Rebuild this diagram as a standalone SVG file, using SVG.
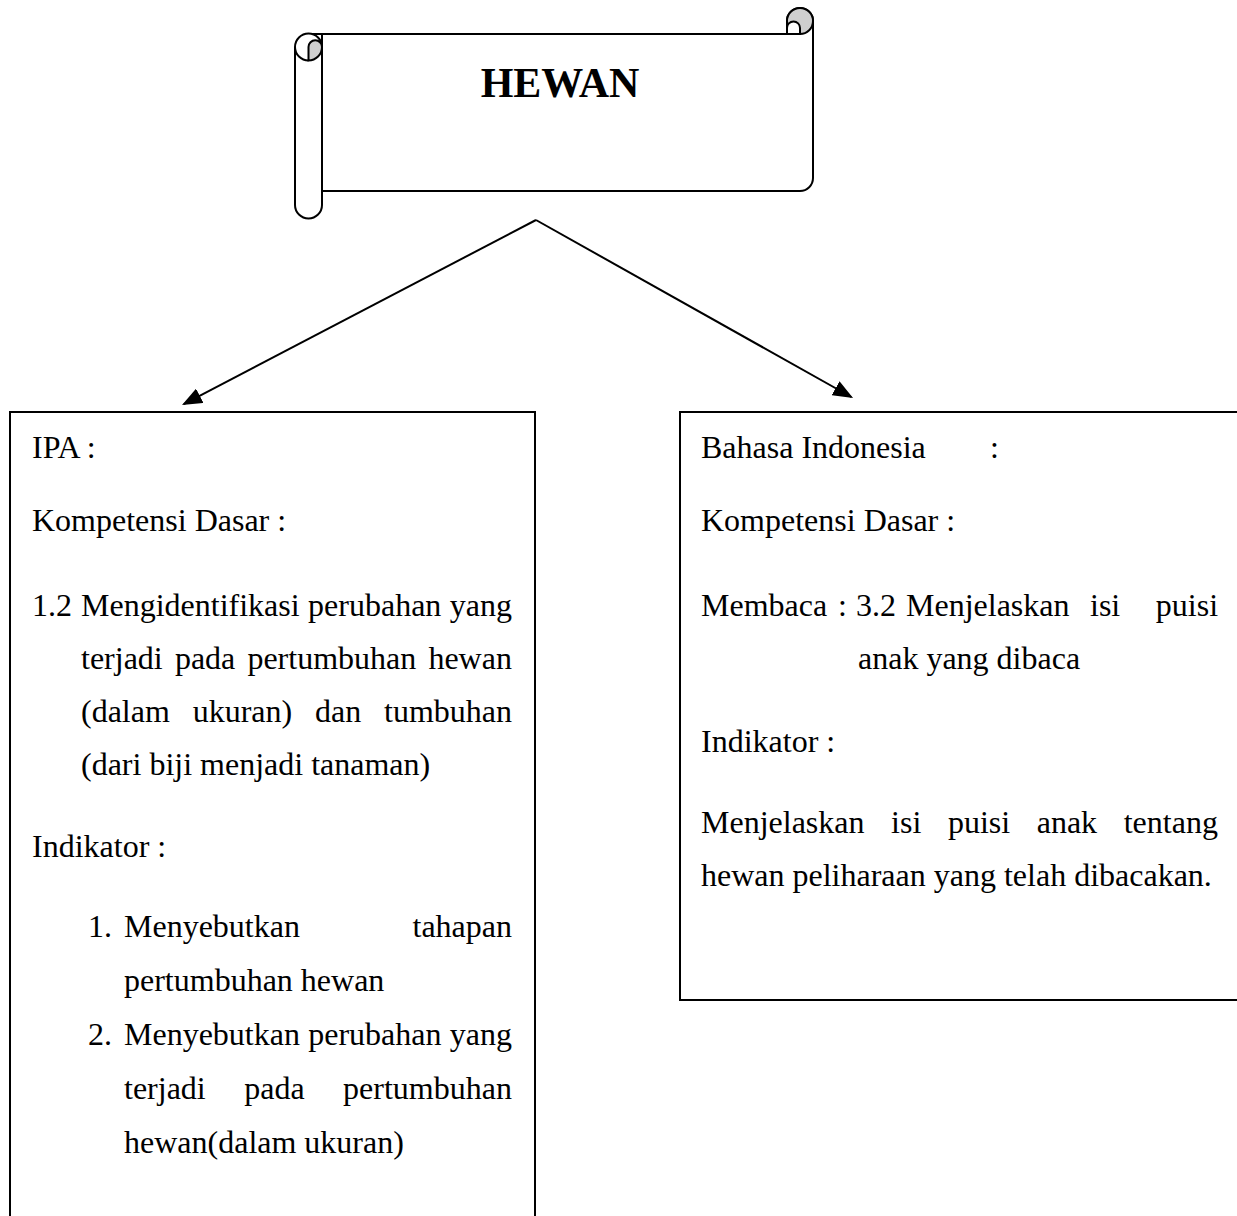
<svg xmlns="http://www.w3.org/2000/svg" width="1237" height="1216" viewBox="0 0 1237 1216">
<style>
.t{font-family:"Liberation Serif","Times New Roman",serif;font-size:32px;fill:#000}
.title{font-family:"Liberation Serif","Times New Roman",serif;font-size:42px;font-weight:bold;fill:#000}
.ln{stroke:#000;stroke-width:2;fill:none}
.box{stroke:#000;stroke-width:2;fill:#fff}
.grey{fill:#cfcfcf;stroke:#000;stroke-width:2}
</style>
<defs>
<marker id="ah" markerUnits="userSpaceOnUse" markerWidth="20" markerHeight="16" refX="18" refY="8" orient="auto">
<path d="M0,0 L20,8 L0,16 Z" fill="#000"/>
</marker>
</defs>
<rect width="1237" height="1216" fill="#fff"/>
<g id="title-scroll">
<path class="box" d="M308,34 H787 V21 A13,13 0 0 1 813,21 V178 A13,13 0 0 1 800,191 H322 V34 Z"/>
<circle class="grey" cx="800" cy="21" r="13"/>
<path class="box" d="M787,21 V34 H800 V28 A6.5,6.5 0 0 0 787,28"/>
<path class="box" d="M295,47 V205 A13.5,13.5 0 0 0 322,205 V47 A13.5,13.5 0 0 0 295,47 Z"/>
<path class="ln" d="M295,47 A13.5,13.5 0 0 0 308.5,60.5"/>
<path class="grey" d="M308.5,60.5 V47 A6.75,6.75 0 0 1 322,47 A13.5,13.5 0 0 1 308.5,60.5 Z"/>
<text class="title" x="560" y="97" text-anchor="middle">HEWAN</text>
</g>
<g id="connectors">
<line class="ln" x1="536" y1="220" x2="183.8" y2="404.1" marker-end="url(#ah)"/>
<line class="ln" x1="536" y1="220" x2="851.3" y2="397" marker-end="url(#ah)"/>
</g>
<g id="ipa-box">
<rect class="box" x="10" y="412" width="525" height="830"/>
<text class="t" x="32" y="458">IPA :</text>
<text class="t" x="32" y="531">Kompetensi Dasar :</text>
<text class="t" y="616"><tspan x="32">1.2</tspan><tspan x="81">Mengidentifikasi</tspan><tspan x="308.1">perubahan</tspan><tspan x="449.8">yang</tspan></text>
<text class="t" y="669"><tspan x="81">terjadi</tspan><tspan x="174.9">pada</tspan><tspan x="247.4">pertumbuhan</tspan><tspan x="428.4">hewan</tspan></text>
<text class="t" y="722"><tspan x="81">(dalam</tspan><tspan x="192.7">ukuran)</tspan><tspan x="315">dan</tspan><tspan x="384">tumbuhan</tspan></text>
<text class="t" x="81" y="775">(dari biji menjadi tanaman)</text>
<text class="t" x="32" y="857">Indikator :</text>
<text class="t" y="937"><tspan x="88">1.</tspan><tspan x="124">Menyebutkan</tspan><tspan x="412.5">tahapan</tspan></text>
<text class="t" x="124" y="991">pertumbuhan hewan</text>
<text class="t" y="1045"><tspan x="88">2.</tspan><tspan x="124">Menyebutkan</tspan><tspan x="308.2">perubahan</tspan><tspan x="449.8">yang</tspan></text>
<text class="t" y="1099"><tspan x="124">terjadi</tspan><tspan x="244.2">pada</tspan><tspan x="343.1">pertumbuhan</tspan></text>
<text class="t" x="124" y="1153">hewan(dalam ukuran)</text>
</g>
<g id="bahasa-box">
<rect class="box" x="680" y="412" width="580" height="588"/>
<text class="t" y="458"><tspan x="701">Bahasa Indonesia</tspan><tspan x="990">:</tspan></text>
<text class="t" x="701" y="531">Kompetensi Dasar :</text>
<text class="t" y="616"><tspan x="701">Membaca</tspan><tspan x="838">:</tspan><tspan x="856">3.2</tspan><tspan x="906">Menjelaskan</tspan><tspan x="1090">isi</tspan><tspan x="1155.8">puisi</tspan></text>
<text class="t" x="858" y="669">anak yang dibaca</text>
<text class="t" x="701" y="752">Indikator :</text>
<text class="t" y="833"><tspan x="701">Menjelaskan</tspan><tspan x="891.1">isi</tspan><tspan x="947.9">puisi</tspan><tspan x="1036.7">anak</tspan><tspan x="1123.7">tentang</tspan></text>
<text class="t" x="701" y="886">hewan peliharaan yang telah dibacakan.</text>
</g>
</svg>
